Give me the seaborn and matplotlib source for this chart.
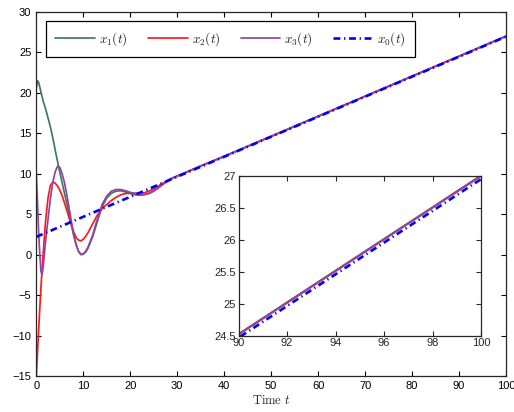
import numpy as np
import matplotlib
matplotlib.use("Agg")
import matplotlib.pyplot as plt
import seaborn as sns

# time grid for the transient part, then the sparse straight part
t = [0, 0.25, 0.5, 0.75, 1, 1.25, 1.5, 2, 2.5, 3, 3.5, 4, 4.5, 5, 5.5, 6, 6.5, 7, 7.5, 8,
     8.5, 9, 9.5, 10, 10.5, 11, 12, 13, 14, 15, 16, 17, 18, 19, 20, 21, 22, 23, 24, 25,
     26, 27, 28, 29, 30, 35, 40, 50, 60, 70, 80, 90, 100]

x1 = [20.5, 21.5, 21.3, 20.7, 20.1, 19.5, 18.9, 18.0, 16.9, 15.8, 14.5, 13.0, 11.6, 10.2, 8.9, 7.6, 6.3, 5.0, 3.6, 2.3,
      1.2, 0.4, 0.0, 0.05, 0.3, 0.8, 2.2, 4.1, 5.9, 7.0, 7.6, 7.85, 7.9, 7.75, 7.55, 7.4, 7.35, 7.4, 7.6, 7.9,
      8.3, 8.75, 9.15, 9.45, 9.7, 10.96, 12.16, 14.63, 17.11, 19.58, 22.06, 24.53, 27.01]

x2 = [-15.0, -12.2, -9.4, -6.6, -4.0, -1.6, 0.4, 4.3, 7.0, 8.55, 8.95, 8.85, 8.5, 8.0, 7.3, 6.4, 5.5, 4.5, 3.6, 2.75,
      2.1, 1.8, 1.7, 1.9, 2.25, 2.7, 3.8, 4.9, 5.7, 6.2, 6.7, 7.1, 7.4, 7.55, 7.6, 7.6, 7.6, 7.65, 7.85, 8.15,
      8.5, 8.85, 9.2, 9.5, 9.72, 10.95, 12.15, 14.62, 17.1, 19.57, 22.05, 24.52, 27.0]

x3 = [10.1, 6.5, 2.8, 0.0, -2.1, -2.45, -1.3, 1.8, 4.4, 6.9, 8.9, 10.2, 10.9, 10.8, 10.0, 8.9, 7.4, 5.7, 4.0, 2.4,
      1.2, 0.4, 0.05, 0.1, 0.4, 0.9, 2.4, 4.4, 6.2, 7.25, 7.85, 8.05, 8.05, 7.9, 7.7, 7.55, 7.45, 7.45, 7.55, 7.85,
      8.25, 8.7, 9.1, 9.45, 9.7, 10.95, 12.15, 14.62, 17.1, 19.57, 22.05, 24.52, 27.0]

t0 = [0, 10, 20, 30, 40, 50, 60, 70, 80, 90, 100]
x0 = [2.2, 4.68, 7.15, 9.63, 12.1, 14.58, 17.05, 19.53, 22.0, 24.47, 26.95]

labels = [r"$x_1(t)$", r"$x_2(t)$", r"$x_3(t)$", r"$x_0(t)$"]
colors = ["#3d7a5f", "#ff1a1a", "#9242a8", "#0000ff"]

sns.set_style("ticks")
plt.rcParams.update({
    "font.family": ["Liberation Sans", "DejaVu Sans"],
    "mathtext.fontset": "cm",
    "xtick.direction": "in",
    "ytick.direction": "in",
    "xtick.top": True,
    "ytick.right": True,
    "xtick.major.size": 3.5,
    "ytick.major.size": 3.5,
    "axes.linewidth": 0.9,
    "font.size": 8,
})


def draw_all(ax):
    for ys, lab, c in zip([x1, x2, x3], labels[:3], colors[:3]):
        sns.lineplot(x=t, y=ys, ax=ax, color=c, label=lab, linewidth=1.25,
                     estimator=None, sort=False)
    sns.lineplot(x=t0, y=x0, ax=ax, color=colors[3], label=labels[3], linewidth=1.9,
                 estimator=None, sort=False, linestyle=(0, (2.6, 1.4, 0.5, 1.4)))


fig = plt.figure(figsize=(5.14, 4.12), dpi=100)
ax = fig.add_axes([0.0706, 0.0874, 0.9138, 0.8835])
draw_all(ax)
ax.set_xlim(0, 100)
ax.set_ylim(-15, 30)
ax.set_xticks(np.arange(0, 101, 10))
ax.set_yticks(np.arange(-15, 31, 5))
ax.tick_params(labelsize=8, width=0.8, colors="black")
ax.set_xlabel(r"$\mathrm{Time}\ t$", fontsize=9, labelpad=2)
ax.set_ylabel("")
leg = ax.legend(loc="upper left", bbox_to_anchor=(0.0207, 0.887, 0.7856, 0.088), mode="expand",
                ncol=4, fontsize=9.5, handlelength=3.0, handletextpad=0.3, columnspacing=0.8,
                fancybox=False, framealpha=1, edgecolor="black", borderaxespad=0, borderpad=0.7)
leg.get_frame().set_linewidth(0.9)

axin = fig.add_axes([0.4644, 0.1852, 0.4714, 0.3876])
draw_all(axin)
axin.set_xlim(90, 100)
axin.set_ylim(24.5, 27)
axin.set_xticks(np.arange(90, 101, 2))
axin.set_yticks([24.5, 25, 25.5, 26, 26.5, 27])
axin.set_yticklabels(["24.5", "25", "25.5", "26", "26.5", "27"])
axin.tick_params(labelsize=8, width=0.8, pad=2)
axin.get_legend().remove()
axin.set_xlabel("")

fig.savefig("out.png", dpi=100)
